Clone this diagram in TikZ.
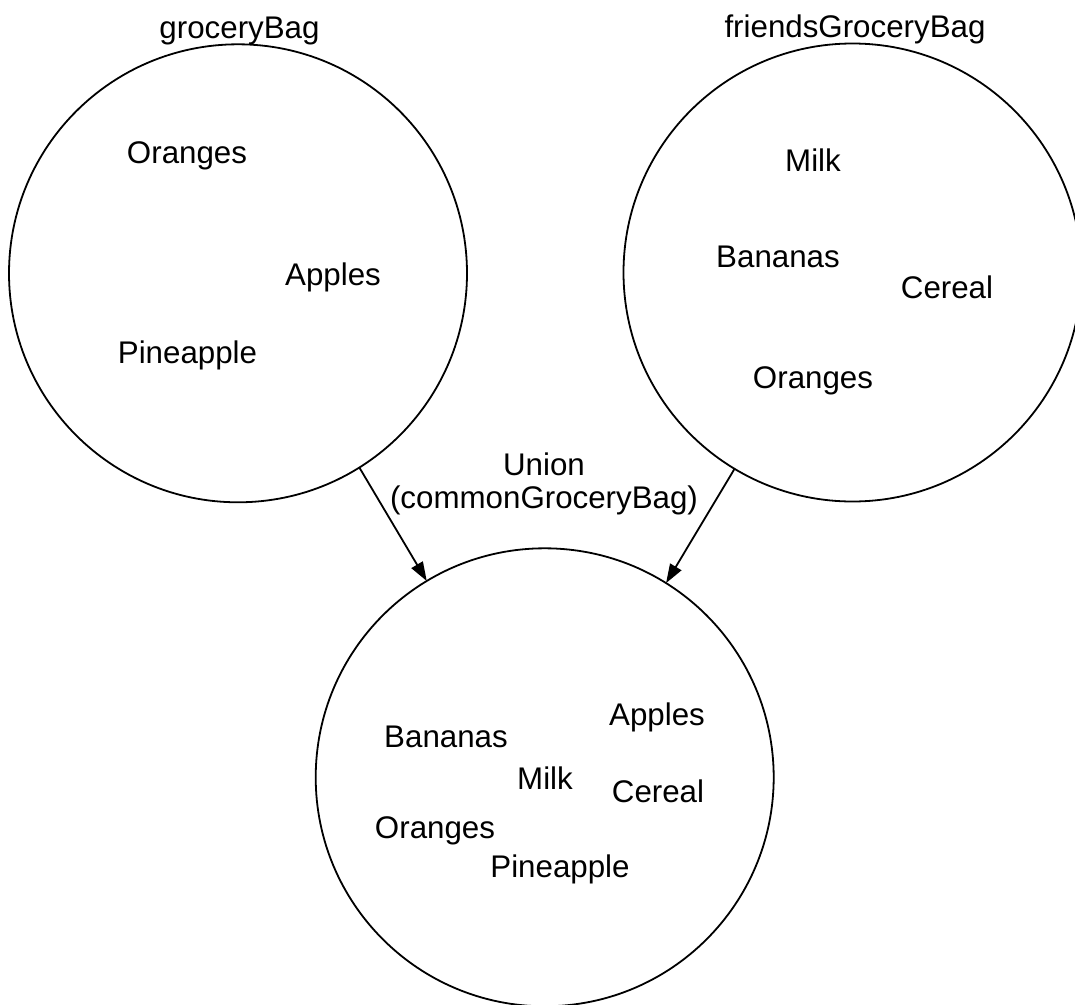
\documentclass[tikz,border=0pt]{standalone}
\usepackage{fontspec}
\setmainfont{Liberation Sans}
\usetikzlibrary{arrows.meta}
\begin{document}
\begin{tikzpicture}[x=1pt,y=-1pt,
  bag/.style={draw,circle,line width=1.8pt,minimum size=458pt,inner sep=0pt,outer sep=0pt},
  item/.style={anchor=base,inner sep=0pt,font=\fontsize{31.3}{37}\selectfont},
  flow/.style={line width=1.8pt,-{Triangle[length=19pt,width=13pt]}}]
\useasboundingbox (0,0) rectangle (1075,1004);

% the three bags
\node[bag] (gb) at (238,273.3) {};
\node[bag] (fb) at (852.5,272.5) {};
\node[bag] (ub) at (544.7,777.3) {};

% titles
\node[item] (gbtitle) at (239.5,38) {groceryBag};
\node[item] (fbtitle) at (855,37) {friendsGroceryBag};
\node[item] (untitle) at (544,475) {Union};
\node[item] (untitle2) at (544,508) {(commonGroceryBag)};

% contents of groceryBag
\node[item] (g1) at (187,163) {Oranges};
\node[item] (g2) at (333,285) {Apples};
\node[item] (g3) at (187.5,363) {Pineapple};

% contents of friendsGroceryBag
\node[item] (f1) at (813,171) {Milk};
\node[item] (f2) at (778,267) {Bananas};
\node[item] (f3) at (947,298) {Cereal};
\node[item] (f4) at (813,388) {Oranges};

% contents of the union
\node[item] (u1) at (657,725) {Apples};
\node[item] (u2) at (446,747) {Bananas};
\node[item] (u3) at (545,789) {Milk};
\node[item] (u4) at (658,802) {Cereal};
\node[item] (u5) at (435,838) {Oranges};
\node[item] (u6) at (560,877) {Pineapple};

% arrows into the union
\draw[flow] (gb.-58.5) -- (ub.121.1);
\draw[flow] (fb.-121.5) -- (ub.58.8);
\end{tikzpicture}
\end{document}
